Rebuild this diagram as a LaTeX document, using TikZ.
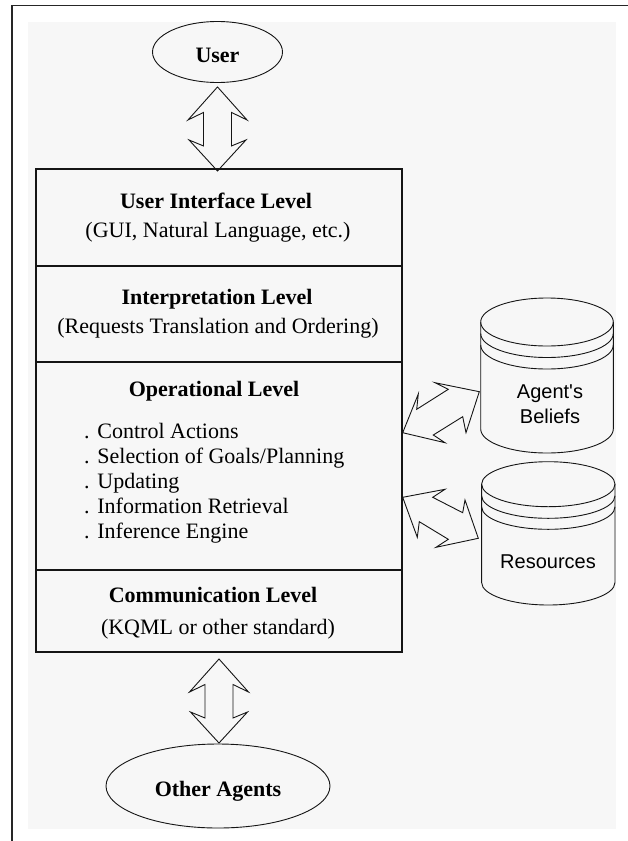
\documentclass[tikz,border=0pt]{standalone}
\usepackage{fontspec}
\setmainfont{Liberation Serif}
\newfontfamily\cylfont{Liberation Sans}
\usetikzlibrary{shapes.geometric,calc}
\definecolor{panel}{HTML}{F7F7F7}
\definecolor{ink}{HTML}{151515}
\begin{document}
\begin{tikzpicture}[x=1pt,y=-1pt,
  txt/.style={inner sep=0pt, anchor=base, font=\fontsize{22}{26}\selectfont},
  ttl/.style={inner sep=0pt, anchor=base, font=\fontsize{22}{26}\selectfont\bfseries},
  itm/.style={inner sep=0pt, anchor=base west, font=\fontsize{22}{26}\selectfont},
  cyltext/.style={inner sep=0pt, align=center, font=\cylfont\fontsize{20}{25}\selectfont},
  thinline/.style={draw=ink, line width=0.9pt, line join=miter},
  levelbox/.style={rectangle, draw=ink, line width=1.4pt, minimum width=366pt, inner sep=0pt},
  oval/.style={ellipse, draw=ink, line width=0.9pt, inner sep=0pt, text height=21pt, text depth=0pt,
    font=\fontsize{22}{26}\selectfont\bfseries},
  vdarrow/.pic={\draw[thinline] (0,0) -- (29.5,33) -- (14,25.5) -- (14,59) -- (28.5,53) -- (0,84)
     -- (-28.5,53) -- (-14,59) -- (-14,25.5) -- (-29.5,33) -- cycle;}
]
% page and frame
\useasboundingbox (0,0) rectangle (628,841);
\fill[white] (0,0) rectangle (628,841);
\fill[panel] (28,22) rectangle (616,829);
\draw[black!85, line width=1.8pt] (12,841) -- (12,5.5) -- (628,5.5);

% end nodes
\node[oval, minimum width=130pt, minimum height=61pt] (user) at (217.5,52) {User};
\node[oval, minimum width=224pt, minimum height=84pt] (others) at (218,786) {Other Agents};

% level stack
\node[levelbox, minimum height=97pt]  (ui)     at (219,217.5) {};
\node[levelbox, minimum height=96pt]  (interp) at (219,314) {};
\node[levelbox, minimum height=208pt] (oper)   at (219,466) {};
\node[levelbox, minimum height=82pt]  (comm)   at (219,611) {};

\node[ttl] (uit) at (216,208) {User Interface Level};
\node[txt] (uis) at (218,237) {(GUI, Natural Language, etc.)};
\node[ttl] (int) at (217,304) {Interpretation Level};
\node[txt] (ins) at (218,333) {(Requests Translation and Ordering)};
\node[ttl] (opt) at (214,396) {Operational Level};
\node[itm] (i1) at (84,438) {.\hspace{0.35em}Control Actions};
\node[itm] (i2) at (84,463) {.\hspace{0.35em}Selection of Goals/Planning};
\node[itm] (i3) at (84,488) {.\hspace{0.35em}Updating};
\node[itm] (i4) at (84,513) {.\hspace{0.35em}Information Retrieval};
\node[itm] (i5) at (84,538) {.\hspace{0.35em}Inference Engine};
\node[ttl] (cot) at (213,602) {Communication Level};
\node[txt] (cos) at (218,634) {(KQML or other standard)};

% vertical double arrows
\pic at ($(user.south)+(0,4)$) {vdarrow};
\pic at ($(comm.south)+(0,6.3)$) {vdarrow};

% cylinder: Agent's Beliefs
\draw[thinline] (480.7,322) -- (480.7,429) arc[start angle=180,end angle=0,x radius=66.3,y radius=24] -- (613.3,322);
\draw[thinline] (547,322) ellipse[x radius=66.3, y radius=24];
\draw[thinline] (480.7,333.5) arc[start angle=180,end angle=0,x radius=66.3,y radius=24];
\draw[thinline] (480.7,345) arc[start angle=180,end angle=0,x radius=66.3,y radius=24];
\node[cyltext] (beliefs) at (550,404) {Agent's\\Beliefs};

% cylinder: Resources
\draw[thinline] (481.6,484.2) -- (481.6,582.5) arc[start angle=180,end angle=0,x radius=66.7,y radius=22.5] -- (615,484.2);
\draw[thinline] (548.3,484.2) ellipse[x radius=66.7, y radius=22.5];
\draw[thinline] (481.6,495.8) arc[start angle=180,end angle=0,x radius=66.7,y radius=22.5];
\draw[thinline] (481.6,506.8) arc[start angle=180,end angle=0,x radius=66.7,y radius=22.5];
\node[cyltext] (resources) at (548,562) {Resources};

% diagonal double arrows
\draw[thinline] (402.7,432.7) -- (418.3,394) -- (416.7,409.3) -- (448.3,389.3) -- (435,382.7)
  -- (479.3,391.7) -- (466,432.7) -- (462.7,416.7) -- (433.3,435) -- (445,442.7) -- cycle;
\draw[thinline] (402.7,497.3) -- (445,489.3) -- (432.7,497.3) -- (462.7,512.7) -- (465,500)
  -- (478.3,538.3) -- (436,547.3) -- (448.3,539.3) -- (419.3,521.7) -- (417.3,537.3) -- cycle;
\end{tikzpicture}
\end{document}
